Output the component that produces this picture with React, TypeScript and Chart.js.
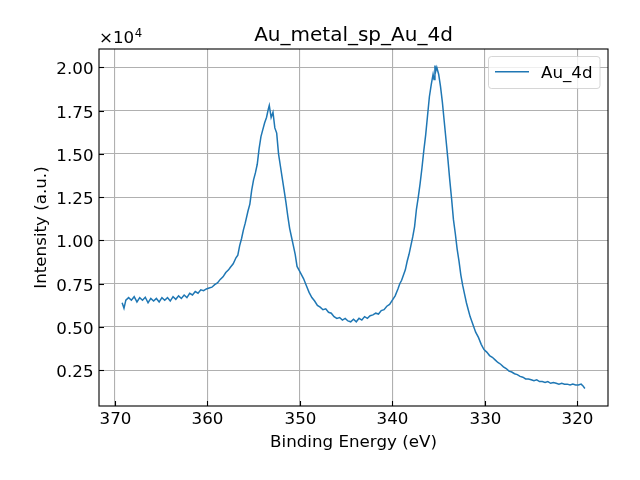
import { useEffect, useRef } from "react";
import { Chart, registerables } from "chart.js";

Chart.register(...registerables);

// Binding energy (eV) and counts
const energy = [
  369.2, 369.0, 368.8, 368.5, 368.2, 367.9, 367.6, 367.3, 367.0, 366.7,
  366.4, 366.1, 365.8, 365.5, 365.2, 364.9, 364.6, 364.3, 364.0, 363.7,
  363.4, 363.1, 362.8, 362.5, 362.2, 361.9, 361.6, 361.3, 361.0, 360.7,
  360.4, 360.1, 359.8, 359.5, 359.2, 358.9, 358.6, 358.3, 358.0, 357.7,
  357.5, 357.2, 356.9, 356.7, 356.5, 356.3, 356.1, 355.9, 355.6, 355.4,
  355.2, 355.0, 354.8, 354.6, 354.4, 354.2, 354.0, 353.8, 353.6, 353.4,
  353.3, 353.1, 352.9, 352.7, 352.5, 352.3, 352.1, 351.9, 351.7, 351.5,
  351.3, 351.1, 350.9, 350.7, 350.5, 350.3, 350.1, 349.9, 349.6, 349.3,
  349.0, 348.7, 348.4, 348.1, 347.8, 347.5, 347.2, 346.9, 346.6, 346.3,
  346.0, 345.7, 345.4, 345.1, 344.8, 344.5, 344.2, 343.9, 343.6, 343.3,
  343.0, 342.7, 342.4, 342.1, 341.8, 341.5, 341.2, 340.9, 340.6, 340.3,
  340.0, 339.7, 339.4, 339.2, 339.0, 338.8, 338.6, 338.4, 338.2, 338.0,
  337.8, 337.6, 337.4, 337.2, 337.0, 336.8, 336.6, 336.4, 336.2, 336.0,
  335.8, 335.6, 335.5, 335.4, 335.3, 335.2, 335.0, 334.8, 334.6, 334.4,
  334.2, 334.0, 333.8, 333.6, 333.4, 333.2, 333.0, 332.8, 332.6, 332.4,
  332.2, 332.0, 331.8, 331.6, 331.4, 331.2, 331.0, 330.7, 330.4, 330.1,
  329.8, 329.5, 329.2, 328.9, 328.6, 328.3, 328.0, 327.7, 327.4, 327.1,
  326.8, 326.5, 326.2, 325.9, 325.6, 325.3, 325.0, 324.7, 324.4, 324.1,
  323.8, 323.5, 323.2, 322.9, 322.6, 322.3, 322.0, 321.7, 321.4, 321.1,
  320.8, 320.5, 320.2, 319.9, 319.6, 319.4, 319.2,
];

const intensity = [
  6400, 6080, 6550, 6700, 6550, 6750, 6450, 6700, 6550, 6720,
  6400, 6650, 6500, 6650, 6450, 6700, 6550, 6700, 6500, 6750,
  6600, 6800, 6650, 6850, 6700, 6950, 6850, 7050, 6950, 7150,
  7100, 7200, 7250, 7300, 7450, 7550, 7750, 7900, 8150, 8300,
  8450, 8650, 9000, 9150, 9700, 10100, 10600, 11000, 11700, 12100,
  12900, 13500, 13900, 14400, 15300, 16000, 16400, 16800, 17100, 17600,
  17800, 17100, 17400, 16500, 16200, 15000, 14300, 13600, 12900, 12200,
  11400, 10700, 10200, 9700, 9200, 8500, 8300, 8100, 7800, 7400,
  7000, 6700, 6500, 6250, 6150, 6000, 6050, 5850, 5800, 5600,
  5500, 5550, 5400, 5500, 5350, 5300, 5450, 5300, 5500, 5400,
  5600, 5500, 5650, 5700, 5800, 5750, 5950, 6000, 6200, 6300,
  6550, 6800, 7200, 7500, 7700, 8000, 8300, 8800, 9200, 9700,
  10200, 10800, 11800, 12500, 13300, 14200, 15200, 16100, 17200, 18300,
  19000, 19600, 19300, 20100, 19800, 20000, 19600, 18900, 18000, 16900,
  15800, 14700, 13500, 12400, 11200, 10400, 9500, 8800, 8000, 7400,
  6900, 6400, 6000, 5600, 5300, 5000, 4700, 4400, 4000, 3700,
  3550, 3350, 3250, 3100, 2950, 2850, 2700, 2600, 2450, 2400,
  2300, 2250, 2150, 2100, 2000, 2000, 1950, 1900, 1950, 1850,
  1850, 1800, 1850, 1750, 1800, 1750, 1700, 1750, 1700, 1700,
  1650, 1700, 1650, 1650, 1700, 1600, 1450,
];

const xTicks = [370, 360, 350, 340, 330, 320];
const yTicks = [2500, 5000, 7500, 10000, 12500, 15000, 17500, 20000];

const FONT = "'DejaVu Sans', sans-serif";
const LINE_COLOR = "#1f77b4";

// matplotlib-like decorations: frame, inward ticks, labels, title, legend
const mplPlugin = {
  id: "mpl",
  afterDraw(chart: any) {
    const { ctx, chartArea: a, scales } = chart;
    const xs = scales.x;
    const ys = scales.y;
    ctx.save();

    // frame
    ctx.strokeStyle = "#000";
    ctx.lineWidth = 1.1;
    ctx.strokeRect(a.left, a.top, a.right - a.left, a.bottom - a.top);

    // inward ticks + tick labels
    ctx.fillStyle = "#000";
    ctx.font = `16.7px ${FONT}`;
    ctx.textBaseline = "alphabetic";
    ctx.textAlign = "center";
    xTicks.forEach((v) => {
      const px = Math.round(xs.getPixelForValue(v)) + 0.5;
      ctx.beginPath();
      ctx.moveTo(px, a.bottom);
      ctx.lineTo(px, a.bottom - 5);
      ctx.stroke();
      ctx.fillText(String(v), px, a.bottom + 18);
    });
    ctx.textAlign = "right";
    yTicks.forEach((v) => {
      const py = Math.round(ys.getPixelForValue(v)) + 0.5;
      ctx.beginPath();
      ctx.moveTo(a.left, py);
      ctx.lineTo(a.left + 5, py);
      ctx.stroke();
      ctx.fillText((v / 1e4).toFixed(2), a.left - 5.5, py + 6);
    });

    // offset text
    ctx.textAlign = "left";
    ctx.fillText("\u00d710", a.left, 43);
    const w = ctx.measureText("\u00d710").width;
    ctx.font = `11.7px ${FONT}`;
    ctx.fillText("4", a.left + w + 0.5, 36.5);

    // title
    const cx = (a.left + a.right) / 2;
    ctx.font = `20px ${FONT}`;
    ctx.textAlign = "center";
    ctx.fillText("Au_metal_sp_Au_4d", cx, 40.5);

    // axis labels
    ctx.font = `16.7px ${FONT}`;
    ctx.fillText("Binding Energy (eV)", cx, 447);
    ctx.save();
    ctx.translate(46, (a.top + a.bottom) / 2);
    ctx.rotate(-Math.PI / 2);
    ctx.fillText("Intensity (a.u.)", 0, 0);
    ctx.restore();

    // legend
    const lx = 488.5, ly = 56.5, lw = 111.5, lh = 32;
    ctx.beginPath();
    ctx.roundRect(lx, ly, lw, lh, 3);
    ctx.fillStyle = "rgba(255,255,255,0.8)";
    ctx.fill();
    ctx.strokeStyle = "rgba(204,204,204,0.8)";
    ctx.lineWidth = 1;
    ctx.stroke();
    ctx.strokeStyle = LINE_COLOR;
    ctx.lineWidth = 1.5;
    ctx.beginPath();
    ctx.moveTo(495, 71.7);
    ctx.lineTo(529, 71.7);
    ctx.stroke();
    ctx.fillStyle = "#000";
    ctx.textAlign = "left";
    ctx.fillText("Au_4d", 541, 77.5);

    ctx.restore();
  },
};

export default function App() {
  const canvasRef = useRef<HTMLCanvasElement | null>(null);

  useEffect(() => {
    document.body.style.margin = "0";
    if (!canvasRef.current) return;

    const chart = new Chart(canvasRef.current, {
      type: "line",
      data: {
        datasets: [
          {
            label: "Au_4d",
            data: energy.map((x, i) => ({ x, y: intensity[i] })),
            borderColor: LINE_COLOR,
            borderWidth: 1.5,
            pointRadius: 0,
            tension: 0,
            fill: false,
          },
        ],
      },
      options: {
        responsive: false,
        animation: false,
        devicePixelRatio: 1,
        layout: { padding: { top: 49, right: 32, left: 0, bottom: 0 } },
        plugins: {
          legend: { display: false },
          title: { display: false },
          tooltip: { enabled: false },
        },
        scales: {
          x: {
            type: "linear",
            reverse: true,
            min: 316.7,
            max: 371.7,
            afterFit: (s: any) => {
              s.height = 74;
            },
            afterBuildTicks: (s: any) => {
              s.ticks = xTicks.map((v) => ({ value: v }));
            },
            ticks: { display: false },
            grid: { color: "#b0b0b0", lineWidth: 1.1, drawTicks: false },
            border: { display: false },
          },
          y: {
            type: "linear",
            min: 438,
            max: 21057,
            afterFit: (s: any) => {
              s.width = 99;
            },
            afterBuildTicks: (s: any) => {
              s.ticks = yTicks.map((v) => ({ value: v }));
            },
            ticks: { display: false },
            grid: { color: "#b0b0b0", lineWidth: 1.1, drawTicks: false },
            border: { display: false },
          },
        },
      },
      plugins: [mplPlugin],
    });

    return () => {
      chart.destroy();
    };
  }, []);

  return (
    <div style={{ width: 640, height: 480, background: "#fff" }}>
      <canvas ref={canvasRef} width={640} height={480}></canvas>
    </div>
  );
}
